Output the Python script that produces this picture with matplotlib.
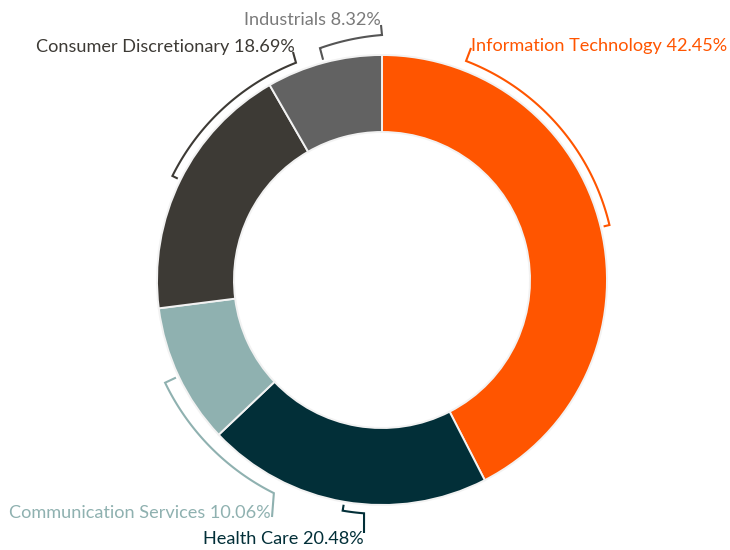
import numpy as np
import matplotlib
matplotlib.use('Agg')
import matplotlib.pyplot as plt

# sector weights (%)
sectors = ['Information Technology', 'Health Care', 'Communication Services',
           'Consumer Discretionary', 'Industrials']
weights = [42.45, 20.48, 10.06, 18.69, 8.32]
colors = ['#FF5500', '#022F38', '#8FB1B0', '#3D3A35', '#626262']
text_colors = ['#FF5500', '#022F38', '#8FB1B0', '#3D3A35', '#7A7A7A']
line_colors = ['#FF5500', '#022F38', '#8FB1B0', '#3D3A35', '#555555']

# figure is laid out in pixel units, y measured from the bottom
W, H = 730, 550
cx, cy = 382, 270
R_OUT, R_IN = 225, 148

# bracket layout: radius at the tick, end angle / radius, label anchor, alignment
br_start_r = [234, 234, 240, 234, 240]
br_end_ang = [21.0, 184.4, 206.9, 338.4, 360.0]
br_end_r = [234.6, 234, 239, 233.7, 245]
lab_xy = [(471, 51), (364, 544), (271, 518), (295, 52), (381, 25)]
lab_ha = ['left', 'right', 'right', 'right', 'right']
leader_end = [(471, 48), (364, 533), (272, 517), (293, 52), (381, 25)]


def polar(a, r):
    a = np.radians(a)
    return cx + r * np.sin(a), cy + r * np.cos(a)


def img(x, y):
    return x, H - y


fig = plt.figure(figsize=(7.3, 5.5), dpi=100)
ax = fig.add_axes([0, 0, 1, 1])

ax.pie(weights, colors=colors, radius=R_OUT, center=(cx, cy), startangle=90,
       counterclock=False,
       wedgeprops=dict(width=R_OUT - R_IN, edgecolor='#f2f2f2', linewidth=1.4))

cum = np.cumsum([0] + weights)
for i in range(len(weights)):
    mid = (cum[i] + weights[i] / 2) * 3.6
    a1 = br_end_ang[i]
    # tick pointing at the slice middle
    tx, ty = zip(polar(mid, 228), polar(mid, br_start_r[i]))
    # arc from the tick round to the leader
    angs = np.linspace(mid, a1, 60)
    rs = np.linspace(br_start_r[i], br_end_r[i], 60)
    ax_, ay_ = polar(angs, rs)
    lx, ly = img(*leader_end[i])
    xs = list(tx) + list(ax_) + [lx]
    ys = list(ty) + list(ay_) + [ly]
    ax.plot(xs, ys, color=line_colors[i], lw=1.5, solid_joinstyle='miter',
            solid_capstyle='butt')
    x, y = img(*lab_xy[i])
    ax.text(x, y, f'{sectors[i]} {weights[i]:.2f}%', color=text_colors[i],
            fontsize=13.1, family='Lato', ha=lab_ha[i], va='baseline')

ax.set_xlim(0, W)
ax.set_ylim(0, H)
ax.set_aspect('equal')
ax.axis('off')
fig.savefig('out.png', dpi=100, facecolor='white')
